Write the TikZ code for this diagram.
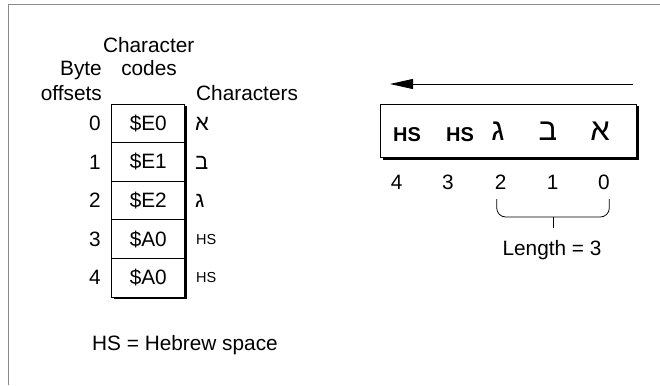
\documentclass[tikz,border=0pt]{standalone}
\usepackage{fontspec}
\setmainfont{Liberation Sans}
\newfontfamily\hebfont[Script=Hebrew]{Liberation Sans}
\TeXXeTstate=1
\usepackage{xcolor}
\usepackage{tikz}
\usetikzlibrary{arrows.meta,shadows}
\definecolor{framegray}{HTML}{8A8A8A}
\newcommand{\heb}[1]{{\hebfont\beginR #1\endR}}
\tikzset{
  cell/.style={draw,fill=white,line width=1pt,minimum width=73.3pt,minimum height=38.6pt,inner sep=0pt,
    drop shadow={fill=black,opacity=1,shadow xshift=2pt,shadow yshift=-2pt}},
  hebsmall/.style={font=\fontsize{22}{26}\selectfont},
  big/.style={font=\fontsize{31}{36}\selectfont},
  smallhs/.style={font=\fontsize{14.5}{17}\selectfont},
  boldhs/.style={font=\fontsize{20}{24}\selectfont\bfseries}
}

\begin{document}
\begin{tikzpicture}[x=1pt,y=-1pt,every node/.style={font=\fontsize{20.8}{24}\selectfont,inner sep=0pt}]
        \useasboundingbox (0,0) rectangle (660,385);
        \draw[framegray,line width=1.5pt] (8.3,385) -- (8.3,4.5) -- (660,4.5);
        % left table
        \node[anchor=base] (hchar) at (148.7,53) {Character};
        \node[anchor=base] (hcodes) at (149,76) {codes};
        \node[anchor=base east] (hbyte) at (102,76) {Byte};
        \node[anchor=base east] (hoffs) at (102,100) {offsets};
        \node[anchor=base west] (hchars) at (196,100) {Characters};
        \foreach \code [count=\i from 0] in {E0,E1,E2,A0,A0} {
          \node[cell] (c\i) at (148.3,{123.3+38.6*\i}) {\$\code};
          \node[anchor=east] (o\i) at (101,{123.3+38.6*\i}) {\i};
        }
        \node[anchor=base west,hebsmall] (k0) at (195,130.5) {\heb{א}};
        \node[anchor=base west,hebsmall] (k1) at (195,169.1) {\heb{ב}};
        \node[anchor=base west,hebsmall] (k2) at (195,207.7) {\heb{ג}};
        \node[anchor=west,smallhs] (k3) at (196,239.1) {HS};
        \node[anchor=west,smallhs] (k4) at (196,277.7) {HS};
        \node[anchor=base west] (note) at (92,350) {HS = Hebrew space};
        % right side
        \coordinate (arrowR) at (633,84);
        \coordinate (arrowL) at (390,84);
        \draw[line width=0.9pt,-{Triangle[length=23pt,width=10pt]}] (arrowR) -- (arrowL);
        \node[cell,line width=1.2pt,minimum width=256pt,minimum height=53.4pt] (line) at (508.7,131) {};
        \node[anchor=base,boldhs] (t4) at (407,141) {HS};
        \node[anchor=base,boldhs] (t3) at (460,141) {HS};
        \node[anchor=base,big] (t2) at (498,140) {\heb{ג}};
        \node[anchor=base,big] (t1) at (548,140) {\heb{ב}};
        \node[anchor=base,big] (t0) at (600,140) {\heb{א}};
        \foreach \x [count=\i from 0] in {604,552.7,500.7,448,396.7}
          \node[anchor=base] (d\i) at (\x,189) {\i};
        \draw[line width=0.8pt,rounded corners=9pt] (496.7,199) |- (609.3,217) -- (609.3,199);
        \coordinate (tick) at (553,228);
        \draw[line width=0.8pt] (553,217) -- (tick);
        \node[anchor=base] (len) at (552,255) {Length = 3};
      \end{tikzpicture}
\end{document}
